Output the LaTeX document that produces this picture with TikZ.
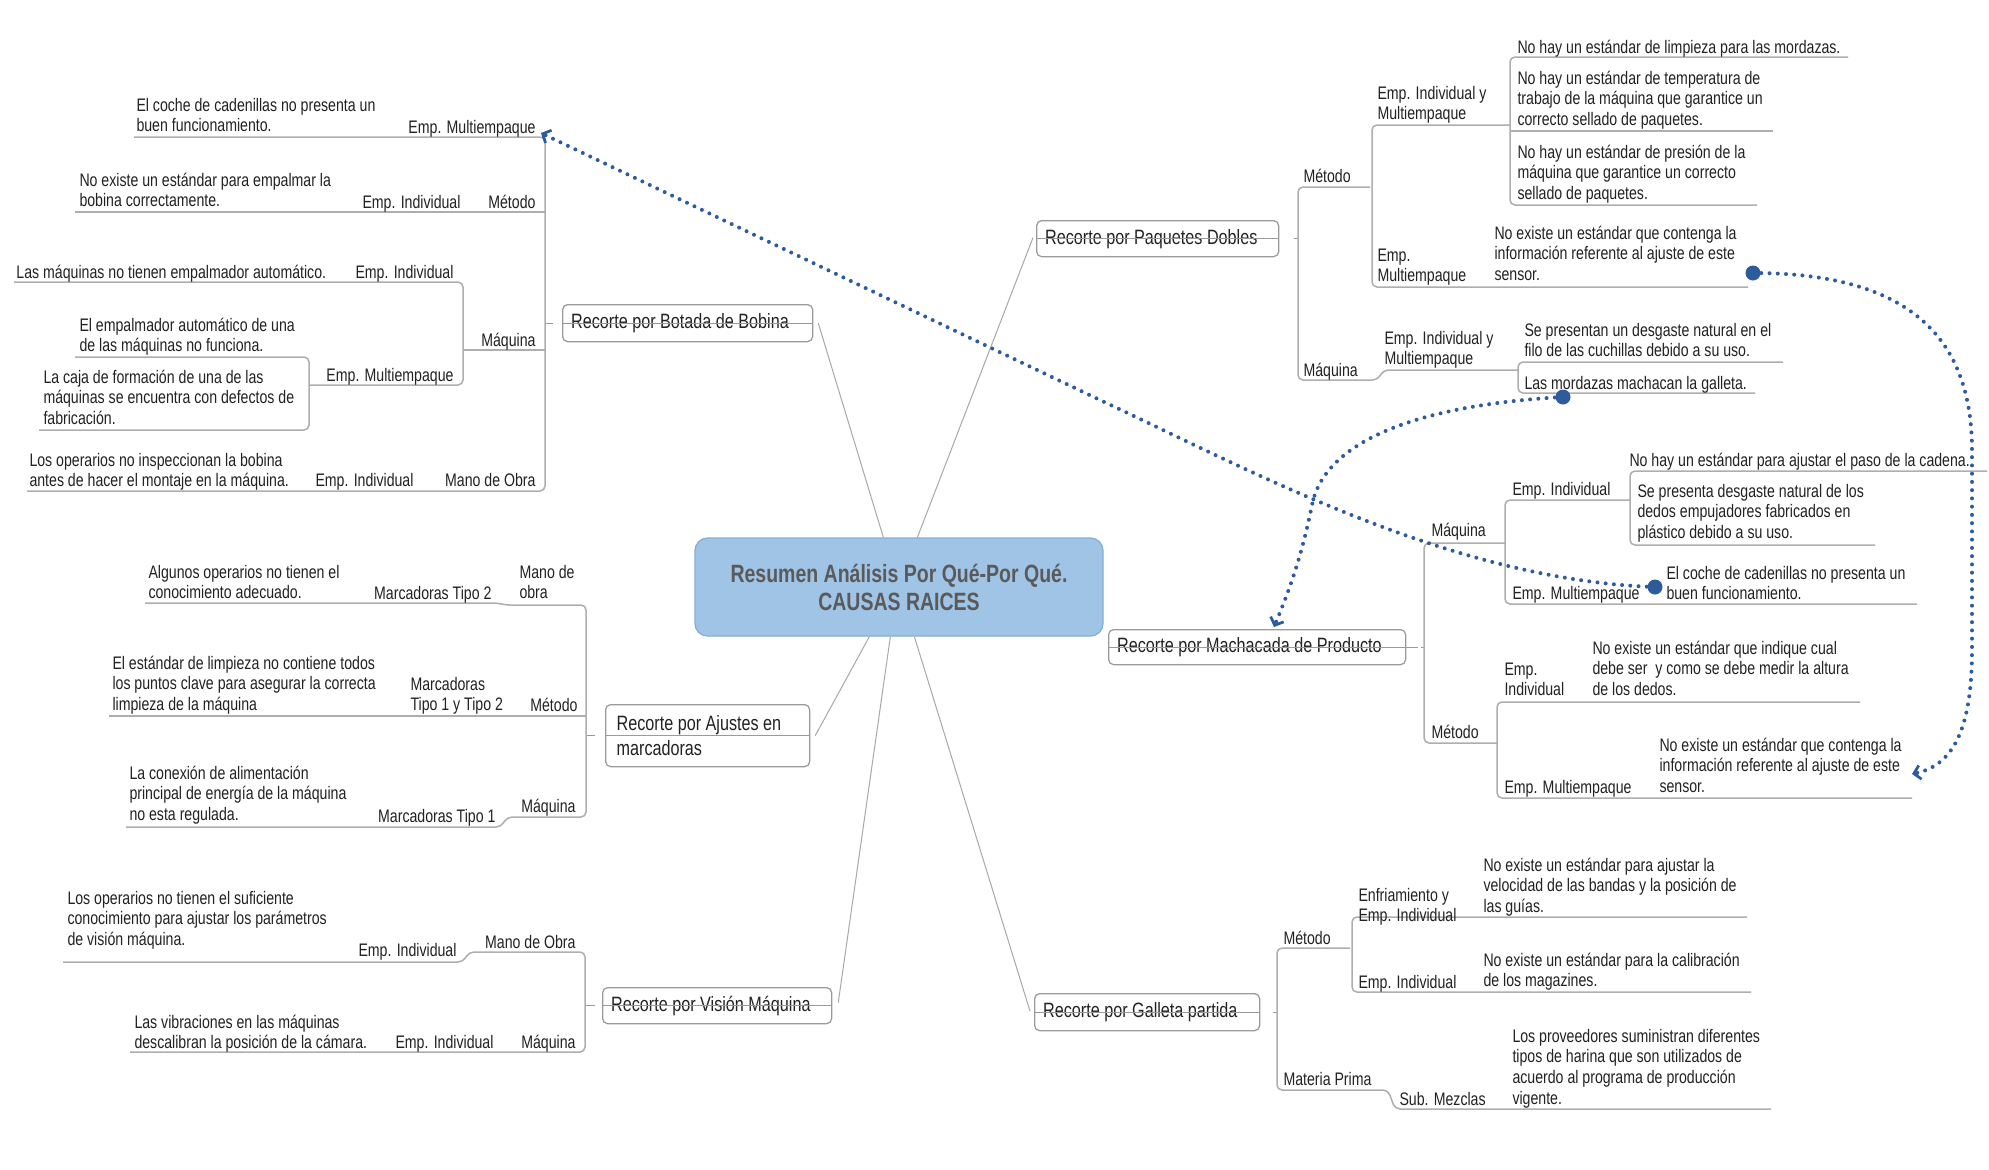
\documentclass[tikz,border=0pt]{standalone}
\usepackage{fontspec}
\setmainfont{Liberation Sans}[FakeStretch=0.78]
\usetikzlibrary{arrows.meta,calc}
\definecolor{tcol}{HTML}{222222}
\definecolor{lcol}{HTML}{AEAEAE}
\definecolor{ccol}{HTML}{A8A8A8}
\definecolor{bcol}{HTML}{9A9A9A}
\definecolor{dcol}{HTML}{2D5B9C}
\definecolor{cfill}{HTML}{9FC4E6}
\definecolor{cdraw}{HTML}{86ADD6}
\definecolor{ttl}{HTML}{5A5A5A}
\newcommand\bodyfont{\fontsize{7.25pt}{8.3pt}\selectfont}
\newcommand\branchfont{\fontsize{8.3pt}{10pt}\selectfont}
\newcommand\titlefont{\fontsize{10pt}{11.2pt}\selectfont\bfseries}
\tikzset{
  txt/.style={inner sep=0pt, font=\bodyfont, text=tcol, align=left, anchor=base west},
  txr/.style={inner sep=0pt, font=\bodyfont, text=tcol, align=right, anchor=base east},
  ln2/.style={yshift=-8.3pt},
  ln3/.style={yshift=-16.6pt},
  ln4/.style={yshift=-24.9pt},
  br/.style={draw=lcol, line width=0.6pt, rounded corners=2pt},
  conn/.style={draw=ccol, line width=0.4pt},
  strike/.style={draw=bcol, line width=0.5pt},
  branch/.style={draw=bcol, fill=white, rounded corners=2pt, line width=0.5pt, font=\branchfont, text=tcol, inner xsep=3.4pt, inner ysep=0pt, align=flush left, anchor=north west},
  central/.style={draw=cdraw, fill=cfill, rounded corners=5pt, line width=0.5pt, font=\titlefont, text=ttl, align=center, minimum width=163.2pt, minimum height=39.2pt, inner sep=0pt},
  dotline/.style={draw=dcol, line width=1.6pt, line cap=round, dash pattern=on 0pt off 3.3pt},
  blob/.style={circle, fill=dcol, inner sep=0pt, minimum size=6pt},
  bluetip/.style={-{Straight Barb[length=2.6pt,width=5.6pt,line width=1.1pt]}}
}
\begin{document}
\begin{tikzpicture}[x=0.4pt,y=-0.4pt]
\useasboundingbox (0,0) rectangle (1989,1169);
\fill[white] (0,0) rectangle (1989,1169);

% ---------- central node and branch boxes ----------
\node[central] (cen) at (899,587) {Resumen Análisis Por Qué-Por Qué.\\CAUSAS RAICES};
\node[branch, text width=93.2pt, minimum height=14.8pt] (bot) at (562,304) {Recorte por Botada de Bobina};
\node[branch, text width=90pt, minimum height=14.4pt] (paq) at (1036,220) {Recorte por Paquetes Dobles};
\node[branch, text width=112pt, minimum height=14pt] (mac) at (1108,629) {Recorte por Machacada de Producto};
\node[branch, text width=83.2pt, minimum height=14.8pt] (gal) at (1034,993) {Recorte por Galleta partida};
\node[branch, text width=72.8pt, inner xsep=4.4pt, minimum height=24.8pt] (aju) at (605,704) {Recorte por Ajustes en\\marcadoras};
\node[branch, text width=84.8pt, minimum height=14.4pt] (vis) at (602,987) {Recorte por Visión Máquina};

% strike lines through the branch boxes
\draw[strike] (bot.west) -- (bot.east);
\draw[strike] (paq.west) -- (paq.east);
\draw[strike] (mac.west) -- ($(mac.east)+(12,0)$);
\draw[strike] (gal.west) -- (gal.east);
\draw[strike] (aju.west) -- (aju.east);
\draw[strike] (vis.west) -- (vis.east);
% small ticks toward brackets
\draw[strike] ($(bot.west)+(-17,0)$) -- ($(bot.west)+(-9,0)$);
\draw[strike] ($(paq.east)+(15,0)$) -- ($(paq.east)+(20,0)$);
\draw[strike] ($(mac.east)+(15,0)$) -- ($(mac.east)+(19,0)$);
\draw[strike] ($(gal.east)+(13,0)$) -- ($(gal.east)+(18,0)$);
\draw[strike] ($(aju.west)+(-19,0)$) -- ($(aju.west)+(-10,0)$);
\draw[strike] ($(vis.west)+(-17,0)$) -- ($(vis.west)+(-7,0)$);

% center connectors
\coordinate (cT1) at ($(cen.north west)+(189,0)$);
\coordinate (cT2) at ($(cen.north west)+(223,0)$);
\coordinate (cB1) at ($(cen.south west)+(175,0)$);
\coordinate (cB2) at ($(cen.south west)+(196,0)$);
\coordinate (cB3) at ($(cen.south west)+(220,0)$);
\draw[conn] ($(bot.east)+(5,0)$) -- (cT1);
\draw[conn] (cT2) -- ($(paq.west)+(-3,-1)$);
\draw[conn] ($(aju.east)+(5,0)$) -- (cB1);
\draw[conn] (cB2) -- ($(vis.east)+(6,-3)$);
\draw[conn] (cB3) -- ($(gal.west)+(-4,-1)$);

% ---------- brackets ----------
% Botada
\draw[br] (134,137) -- (545,137) -- (545,491) -- (27,491);
\draw[br] (75,212) -- (545,212);
\draw[br] (14,282) -- (463,282) -- (463,385) -- (309,385);
\draw[br] (463,350) -- (545,350);
\draw[br] (75,357) -- (309,357) -- (309,430) -- (39,430);
% Paquetes
\draw[br] (1370,187) -- (1298,187) -- (1298,380) -- (1377,380) -- (1384,370) -- (1518,370);
\draw[br] (1510,125) -- (1372,125) -- (1372,287) -- (1748,287);
\draw[br] (1848,57) -- (1510,57) -- (1510,205) -- (1757,205);
\draw[br] (1510,131) -- (1773,131);
\draw[br] (1783,362) -- (1518,362) -- (1518,393) -- (1755,393);
% Machacada
\draw[br] (1505,543) -- (1424,543) -- (1424,743) -- (1497,743);
\draw[br] (1630,500) -- (1505,500) -- (1505,604) -- (1917,604);
\draw[br] (1987,471) -- (1630,471) -- (1630,545) -- (1875,545);
\draw[br] (1860,702) -- (1497,702) -- (1497,798) -- (1912,798);
% Galleta
\draw[br] (1350,948) -- (1277,948) -- (1277,1090) -- (1388,1090) -- (1395,1109) -- (1771,1109);
\draw[br] (1747,917) -- (1352,917) -- (1352,992) -- (1751,992);
% Ajustes
\draw[br] (145,603) -- (498,603) -- (505,605) -- (586,605) -- (586,817) -- (507,817) -- (501,827) -- (126,827);
\draw[br] (109,716) -- (586,716);
% Vision
\draw[br] (63,962) -- (463,962) -- (469,952) -- (585,952) -- (585,1052) -- (130,1052);

% ---------- texts: Botada ----------
\node[txt, ln2] (t1) at (136,111) {El coche de cadenillas no presenta un\\buen funcionamiento.};
\node[txr] (l1) at (536,133) {Emp. Multiempaque};
\node[txt, ln2] (t2) at (79,186) {No existe un estándar para empalmar la\\bobina correctamente.};
\node[txr] (l2) at (461,208) {Emp. Individual};
\node[txr] (m1) at (536,208) {Método};
\node[txt] (t3) at (16,278) {Las máquinas no tienen empalmador automático.};
\node[txr] (l3) at (454,278) {Emp. Individual};
\node[txt, ln2] (t4) at (79,331) {El empalmador automático de una\\de las máquinas no funciona.};
\node[txr] (m2) at (536,346) {Máquina};
\node[txr] (l4) at (454,381) {Emp. Multiempaque};
\node[txt, ln3] (t5) at (43,383) {La caja de formación de una de las\\máquinas se encuentra con defectos de\\fabricación.};
\node[txt, ln2] (t6) at (29,466) {Los operarios no inspeccionan la bobina\\antes de hacer el montaje en la máquina.};
\node[txr] (l5) at (414,486) {Emp. Individual};
\node[txr] (m3) at (536,486) {Mano de Obra};

% ---------- texts: Ajustes ----------
\node[txt, ln2] (t7) at (148,578) {Algunos operarios no tienen el\\conocimiento adecuado.};
\node[txr] (l6) at (492,599) {Marcadoras Tipo 2};
\node[txt, ln2] (m4) at (519,578) {Mano de\\obra};
\node[txt, ln3] (t8) at (112,669) {El estándar de limpieza no contiene todos\\los puntos clave para asegurar la correcta\\limpieza de la máquina};
\node[txt, ln2] (l7) at (410,690) {Marcadoras\\Tipo 1 y Tipo 2};
\node[txr] (m5) at (578,711) {Método};
\node[txt, ln3] (t9) at (129,779) {La conexión de alimentación\\principal de energía de la máquina\\no esta regulada.};
\node[txr] (l8) at (496,822) {Marcadoras Tipo 1};
\node[txr] (m6) at (576,812) {Máquina};

% ---------- texts: Vision ----------
\node[txt, ln3] (t10) at (67,904) {Los operarios no tienen el suficiente\\conocimiento para ajustar los parámetros\\de visión máquina.};
\node[txr] (l9) at (457,956) {Emp. Individual};
\node[txr] (m7) at (576,948) {Mano de Obra};
\node[txt, ln2] (t11) at (134,1028) {Las vibraciones en las máquinas\\descalibran la posición de la cámara.};
\node[txr] (l10) at (494,1048) {Emp. Individual};
\node[txr] (m8) at (576,1048) {Máquina};

% ---------- texts: Paquetes ----------
\node[txt] (m9) at (1303,182) {Método};
\node[txt, ln2] (l11) at (1377,99) {Emp. Individual y\\Multiempaque};
\node[txt] (t12) at (1517,53) {No hay un estándar de limpieza para las mordazas.};
\node[txt, ln3] (t13) at (1517,84) {No hay un estándar de temperatura de\\trabajo de la máquina que garantice un\\correcto sellado de paquetes.};
\node[txt, ln3] (t14) at (1517,158) {No hay un estándar de presión de la\\máquina que garantice un correcto\\sellado de paquetes.};
\node[txt, ln2] (l12) at (1377,261) {Emp.\\Multiempaque};
\node[txt, ln3] (t15) at (1494,239) {No existe un estándar que contenga la\\información referente al ajuste de este\\sensor.};
\node[txt] (m10) at (1303,376) {Máquina};
\node[txt, ln2] (l13) at (1384,344) {Emp. Individual y\\Multiempaque};
\node[txt, ln2] (t16) at (1524,336) {Se presentan un desgaste natural en el\\filo de las cuchillas debido a su uso.};
\node[txt] (t17) at (1524,389) {Las mordazas machacan la galleta.};

% ---------- texts: Machacada ----------
\node[txt] (m11) at (1431,536) {Máquina};
\node[txt] (l14) at (1512,495) {Emp. Individual};
\node[txt] (t18) at (1629,466) {No hay un estándar para ajustar el paso de la cadena.};
\node[txt, ln3] (t19) at (1637,497) {Se presenta desgaste natural de los\\dedos empujadores fabricados en\\plástico debido a su uso.};
\node[txt] (l15) at (1512,599) {Emp. Multiempaque};
\node[txt, ln2] (t20) at (1666,579) {El coche de cadenillas no presenta un\\buen funcionamiento.};
\node[txt] (m12) at (1431,738) {Método};
\node[txt, ln2] (l16) at (1504,675) {Emp.\\Individual};
\node[txt, ln3] (t21) at (1592,654) {No existe un estándar que indique cual\\debe ser\ \ y como se debe medir la altura\\de los dedos.};
\node[txt] (l17) at (1504,793) {Emp. Multiempaque};
\node[txt, ln3] (t22) at (1659,751) {No existe un estándar que contenga la\\información referente al ajuste de este\\sensor.};

% ---------- texts: Galleta ----------
\node[txt] (m13) at (1283,944) {Método};
\node[txt, ln2] (l18) at (1358,901) {Enfriamiento y\\Emp. Individual};
\node[txt, ln3] (t23) at (1483,871) {No existe un estándar para ajustar la\\velocidad de las bandas y la posición de\\las guías.};
\node[txt] (l19) at (1358,988) {Emp. Individual};
\node[txt, ln2] (t24) at (1483,966) {No existe un estándar para la calibración\\de los magazines.};
\node[txt] (m14) at (1283,1085) {Materia Prima};
\node[txt] (l20) at (1399,1105) {Sub. Mezclas};
\node[txt, ln4] (t25) at (1512,1042) {Los proveedores suministran diferentes\\tipos de harina que son utilizados de\\acuerdo al programa de producción\\vigente.};

% ---------- dotted relation connectors ----------
\coordinate (dA) at (1655,587);
\coordinate (aA) at (541,133);
\coordinate (dB) at (1753,273);
\coordinate (aB) at (1912,774);
\coordinate (dC) at (1563,397);
\coordinate (aC) at (1274,627);
\draw[dotline, bluetip] (dA) .. controls (1450,580) and (1250,470) .. (1100,400) -- (aA);
\draw[dotline, bluetip] (dB) .. controls (1900,273) and (1972,330) .. (1972,450) -- (1972,650) .. controls (1972,735) and (1950,766) .. (aB);
\draw[dotline, bluetip] (dC) .. controls (1420,405) and (1325,440) .. (1312,505) .. controls (1300,565) and (1285,600) .. (aC);
\node[blob] (bA) at (dA) {};
\node[blob] (bB) at (dB) {};
\node[blob] (bC) at (dC) {};
\end{tikzpicture}
\end{document}
